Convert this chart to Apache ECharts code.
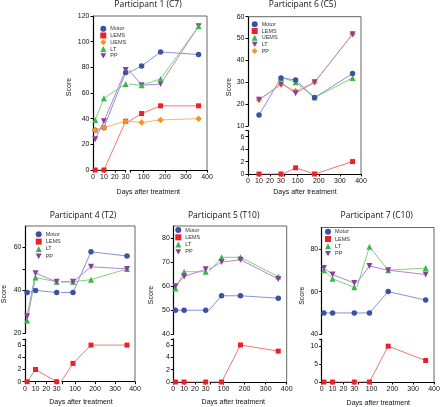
<!DOCTYPE html>
<html><head><meta charset="utf-8">
<script src="https://cdn.jsdelivr.net/npm/echarts@6/dist/echarts.min.js"></script>
<style>html,body{margin:0;padding:0;background:#fff}#c{width:440px;height:407px}</style>
</head><body><div id="c"></div>
<script>
// ---------------- data ----------------
const daysA = [2, 10, 30, 90, 180, 360];
const daysB = [10, 30, 90, 180, 360];
const xLeftTicks = [0, 10, 20, 30];
const xRightTicks = [100, 200, 300, 400];

const p1Motor = [31, 33, 76, 81, 92, 90];
const p1LEMS  = [0, 0, 38, 44, 50, 50];
const p1UEMS  = [31, 33, 38, 37, 39, 40];
const p1LT    = [39, 56, 67, 66, 71, 112];
const p1PP    = [24, 38, 78, 66, 67, 112];

const p6Motor = [15, 32, 31, 23, 34];
const p6LEMS  = [0, 0, 1, 0, 2];
const p6UEMS  = [null, 32, 30, 23, 32];
const p6LT    = [22, 29, 25, 30, 52];
const p6PP    = [22, 29, 26, 30, 52];

const p4Motor = [39, 40, 39, 39, 58, 56];
const p4LEMS  = [0, 2, 0, 3, 6, 6];
const p4LT    = [26, 46, 44, 44, 45, 50];
const p4PP    = [28, 48, 44, 44, 51, 50];

const p5Motor = [50, 50, 50, 56, 56, 55];
const p5LEMS  = [0, 0, 0, 0, 6, 5];
const p5LT    = [59, 66, 66, 72, 72, 64];
const p5PP    = [60, 64, 67, 70, 71, 63];

const p7Motor = [50, 50, 50, 50, 60, 56];
const p7LEMS  = [0, 0, 0, 0, 10, 6];
const p7LT    = [70, 66, 62, 81, 70, 71];
const p7PP    = [71, 68, 64, 72, 70, 68];

const p1YLabels = [0, 20, 40, 60, 80, 100, 120];
const p6YUpperLabels = [10, 20, 30, 40, 50, 60];
const smallLowerLabels = [0, 2, 4, 6];
const p4YUpperLabels = [20, 40, 60];
const p4YUpperTicks = [20, 40, 50, 60];
const p5YUpperLabels = [40, 50, 60, 70, 80];
const p7YUpperLabels = [40, 60, 80];
const p7YLowerLabels = [0, 5, 10];

// ---------------- styles ----------------
const COL = {
  blue:   {m: '#3a51a6', l: '#8593d6'},
  red:    {m: '#ee2027', l: '#f47474'},
  orange: {m: '#f7941d', l: '#f8b56a'},
  green:  {m: '#3cb54a', l: '#7fd27f'},
  purple: {m: '#8a3f9e', l: '#b386c8'}
};
const SYM = {
  circle: ['circle', 5.5], rect: ['rect', 5], diamond: ['diamond', 6.5],
  triangle: ['triangle', 6], down: ['path://M0,0L10,0L5,9Z', 6]
};
const AX = 'Liberation Sans';

const panels = [
  { id: 'p1', title: 'Participant 1 (C7)', tx: 148, ty: 4.5, sx: 69, sy: 87, nx: 148.3, ny: 191.7,
    xl: [93, 125.7], xr: [130, 207], days: daysA,
    rows: [{top: 16, bottom: 170, min: 0, max: 120, labels: p1YLabels, ticks: p1YLabels}],
    legend: {left: 100.3, top: 25.7, gap: 0.8},
    legendOrder: ['Motor', 'LEMS', 'UEMS', 'LT', 'PP'],
    series: [['Motor', p1Motor, 'blue', 'circle', 0], ['LEMS', p1LEMS, 'red', 'rect', 0],
             ['UEMS', p1UEMS, 'orange', 'diamond', 0], ['PP', p1PP, 'purple', 'down', 0],
             ['LT', p1LT, 'green', 'triangle', 0]] },
  { id: 'p6', title: 'Participant 6 (C5)', tx: 302.5, ty: 4.5, sx: 229, sy: 87, nx: 305, ny: 192.3,
    xl: [248, 281], xr: [284, 361], days: daysB,
    rows: [{top: 16.7, bottom: 126, min: 10, max: 60, labels: p6YUpperLabels, ticks: p6YUpperLabels},
           {top: 130.5, bottom: 174, min: 0, max: 7, labels: smallLowerLabels, ticks: smallLowerLabels.concat([7])}],
    legend: {left: 251.7, top: 21.3, gap: 0.7},
    legendOrder: ['Motor', 'LEMS', 'UEMS', 'LT', 'PP'],
    series: [['UEMS', p6UEMS, 'green', 'triangle', 0], ['Motor', p6Motor, 'blue', 'circle', 0],
             ['LEMS', p6LEMS, 'red', 'rect', 1], ['PP', p6PP, 'orange', 'diamond', 0],
             ['LT', p6LT, 'purple', 'down', 0]] },
  { id: 'p4', title: 'Participant 4 (T2)', tx: 83, ty: 216, sx: 4.5, sy: 294, nx: 81, ny: 401.7,
    xl: [25, 56.7], xr: [62, 135], days: daysA,
    rows: [{top: 226, bottom: 333.3, min: 20, max: 70, labels: p4YUpperLabels, ticks: p4YUpperTicks},
           {top: 339, bottom: 381.7, min: 0, max: 7, labels: smallLowerLabels, ticks: smallLowerLabels.concat([7])}],
    legend: {left: 35.7, top: 231.3, gap: 1.3},
    legendOrder: ['Motor', 'LEMS', 'LT', 'PP'],
    series: [['Motor', p4Motor, 'blue', 'circle', 0], ['LEMS', p4LEMS, 'red', 'rect', 1],
             ['LT', p4LT, 'green', 'triangle', 0], ['PP', p4PP, 'purple', 'down', 0]] },
  { id: 'p5', title: 'Participant 5 (T10)', tx: 223.7, ty: 216, sx: 150.7, sy: 295, nx: 233.3, ny: 402,
    xl: [173.3, 205.7], xr: [210, 286.7], days: daysA,
    rows: [{top: 226, bottom: 334.3, min: 40, max: 85, labels: p5YUpperLabels, ticks: p5YUpperLabels},
           {top: 338.8, bottom: 382, min: 0, max: 7, labels: smallLowerLabels, ticks: smallLowerLabels.concat([7])}],
    legend: {left: 175.3, top: 227, gap: 1.3},
    legendOrder: ['Motor', 'LEMS', 'LT', 'PP'],
    series: [['Motor', p5Motor, 'blue', 'circle', 0], ['LEMS', p5LEMS, 'red', 'rect', 1],
             ['LT', p5LT, 'green', 'triangle', 0], ['PP', p5PP, 'purple', 'down', 0]] },
  { id: 'p7', title: 'Participant 7 (C10)', tx: 376.7, ty: 216, sx: 302.3, sy: 295.7, nx: 378.3, ny: 402.7,
    xl: [321.7, 354.3], xr: [358, 434], days: daysA,
    rows: [{top: 227.5, bottom: 334.3, min: 40, max: 90, labels: p7YUpperLabels, ticks: p7YUpperLabels},
           {top: 339, bottom: 382, min: 0, max: 12, labels: p7YLowerLabels, ticks: p7YLowerLabels.concat([12])}],
    legend: {left: 325, top: 228.7, gap: 1.3},
    legendOrder: ['Motor', 'LEMS', 'LT', 'PP'],
    series: [['Motor', p7Motor, 'blue', 'circle', 0], ['LEMS', p7LEMS, 'red', 'rect', 1],
             ['LT', p7LT, 'green', 'triangle', 0], ['PP', p7PP, 'purple', 'down', 0]] }
];

const RIGHT_MIN = 35;
const grids = [], xAxes = [], yAxes = [], series = [], legends = [], graphics = [];

panels.forEach(p => {
  const idx = {};
  p.rows.forEach((r, ri) => {
    [0, 1].forEach(c => {
      const g = grids.length;
      const xr = c === 0 ? p.xl : p.xr;
      grids.push({left: xr[0], top: r.top, width: xr[1] - xr[0], height: r.bottom - r.top,
                  containLabel: false, outerBoundsMode: 'none', show: false});
      const bottom = ri === p.rows.length - 1;
      xAxes.push({
        type: 'value', gridIndex: g, show: bottom,
        min: c === 0 ? 0 : RIGHT_MIN, max: c === 0 ? 30 : 400,
        axisLine: {show: true, onZero: false, lineStyle: {color: '#000', width: 1.2}},
        axisTick: {show: true, length: 2.5, lineStyle: {color: '#000', width: 1},
                   customValues: c === 0 ? xLeftTicks : [RIGHT_MIN].concat(xRightTicks)},
        axisLabel: {show: true, fontSize: 7, fontFamily: AX, color: '#111', margin: 3.5,
                    customValues: c === 0 ? xLeftTicks : xRightTicks},
        splitLine: {show: false}
      });
      yAxes.push({
        type: 'value', gridIndex: g, show: c === 0,
        min: r.min, max: r.max,
        axisLine: {show: true, onZero: false, lineStyle: {color: '#000', width: 1.2}},
        axisTick: {show: true, length: 2.5, lineStyle: {color: '#000', width: 1}, customValues: r.ticks},
        axisLabel: {show: true, fontSize: 7, fontFamily: AX, color: '#111', margin: 3.5, customValues: r.labels},
        splitLine: {show: false}
      });
      idx[ri + '_' + c] = g;
    });
  });
  const iconOf = {};
  p.series.forEach(s => {
    const [key, vals, col, sym, row] = s;
    iconOf[key] = SYM[sym][0];
    [0, 1].forEach(c => {
      const g = idx[row + '_' + c];
      series.push({
        type: 'line', name: p.id + '_' + key, xAxisIndex: g, yAxisIndex: g,
        data: p.days.map((d, i) => [d, vals[i]]),
        symbol: SYM[sym][0], symbolSize: SYM[sym][1], showSymbol: true,
        itemStyle: {color: COL[col].m}, lineStyle: {color: COL[col].l, width: 1},
        clip: true, animation: false, silent: true
      });
    });
  });
  legends.push({
    orient: 'vertical', left: p.legend.left, top: p.legend.top, padding: 0,
    itemGap: p.legend.gap, itemWidth: 6, itemHeight: 6, selectedMode: false,
    textStyle: {fontSize: 5.5, lineHeight: 6, fontFamily: AX, color: '#333', padding: [0, 0, 0, -1]},
    formatter: n => n.slice(n.indexOf('_') + 1),
    data: p.legendOrder.map(k => ({name: p.id + '_' + k, icon: iconOf[k]}))
  });
  const top = p.rows[0].top, bot = p.rows[p.rows.length - 1].bottom;
  graphics.push({type: 'polyline', silent: true, z: 5,
    shape: {points: [[p.xl[0], top], [p.xr[1], top], [p.xr[1], bot]]},
    style: {stroke: '#555', lineWidth: 0.9, fill: null}});
  graphics.push({type: 'text', x: p.tx, y: p.ty, silent: true,
    style: {text: p.title, font: '8.5px "Open Sans"', fill: '#111',
            align: 'center', verticalAlign: 'middle', textAlign: 'center', textVerticalAlign: 'middle'}});
  graphics.push({type: 'text', x: p.sx, y: p.sy, rotation: Math.PI / 2, silent: true,
    style: {text: 'Score', font: '7px "Liberation Sans"', fill: '#111',
            align: 'center', verticalAlign: 'middle', textAlign: 'center', textVerticalAlign: 'middle'}});
  graphics.push({type: 'text', x: p.nx, y: p.ny, silent: true,
    style: {text: 'Days after treatment', font: '7px "Liberation Sans"', fill: '#111',
            align: 'center', verticalAlign: 'middle', textAlign: 'center', textVerticalAlign: 'middle'}});
});

const chart = echarts.init(document.getElementById('c'), null, {renderer: 'canvas'});
chart.setOption({
  backgroundColor: '#fff',
  animation: false,
  grid: grids, xAxis: xAxes, yAxis: yAxes,
  legend: legends, series: series, graphic: graphics
});
</script>
</body></html>
